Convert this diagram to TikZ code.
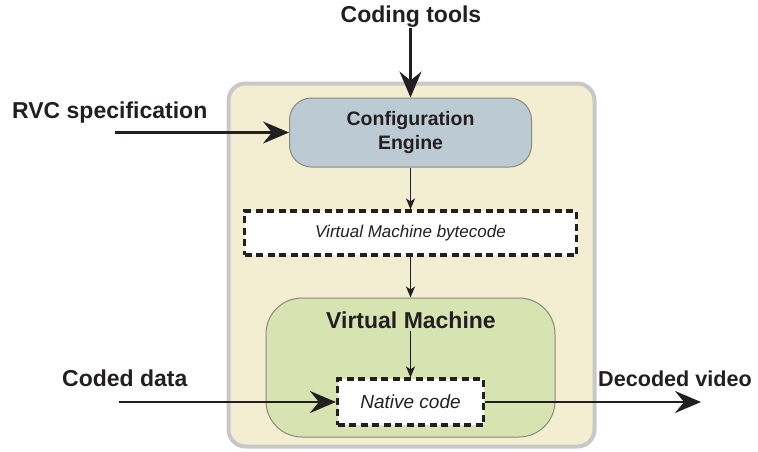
\documentclass[tikz,border=0pt]{standalone}
\usepackage{fontspec}
\setmainfont{Liberation Sans}
\usetikzlibrary{arrows.meta}
\definecolor{ink}{HTML}{231F20}
\definecolor{cream}{HTML}{F3EDD2}
\definecolor{outerline}{HTML}{C8C8C8}
\definecolor{cfgfill}{HTML}{BCCAD4}
\definecolor{vmfill}{HTML}{D7E3B0}
\definecolor{boxline}{HTML}{8A8A7A}
\tikzset{
  lbl/.style={font=\fontsize{23}{26}\selectfont\bfseries, text=ink, inner sep=0pt},
  bigarrow/.style={draw=ink, line width=2.6pt, -{Stealth[length=26pt,width=22pt,inset=9pt]}},
  smallarrow/.style={draw=ink, line width=1.2pt, -{Stealth[length=11pt,width=9pt,inset=3pt]}},
  dashbox/.style={draw=ink, fill=white, line width=3.2pt, dash pattern=on 7pt off 4.5pt, inner sep=0pt},
  ibox/.style={draw=boxline, line width=1pt, inner sep=0pt}
}
\begin{document}
\begin{tikzpicture}[x=1pt,y=-1pt]
\useasboundingbox (0,0) rectangle (758,451);
% outer container
\node[draw=outerline, fill=cream, line width=4pt, rounded corners=17pt,
      minimum width=366pt, minimum height=363pt] (outer) at (411.5,265) {};
% configuration engine
\node[ibox, fill=cfgfill, rounded corners=22pt, minimum width=242pt, minimum height=69pt,
      align=center, text=ink, font=\fontsize{19.5}{24}\selectfont\bfseries] (cfg) at (410.5,132.5)
      {Configuration\\Engine};
% bytecode box
\node[dashbox, minimum width=332pt, minimum height=44pt, text=ink,
      font=\fontsize{17}{20}\selectfont\itshape] (bc) at (410.5,233) {Virtual Machine bytecode};
% virtual machine
\node[ibox, fill=vmfill, rounded corners=36pt, minimum width=289pt, minimum height=139pt] (vm) at (410.5,367.5) {};
\node[lbl] (vmlabel) at (411,320) {Virtual Machine};
% native code
\node[dashbox, minimum width=146pt, minimum height=46pt, text=ink,
      font=\fontsize{19}{22}\selectfont\itshape] (nc) at (410.5,402) {Native code};
% external labels
\node[lbl, anchor=base] (coding) at (411,22) {Coding tools};
\node[lbl, anchor=base west] (rvc) at (12,118.5) {RVC specification};
\node[lbl, anchor=base west] (coded) at (62,386) {Coded data};
\node[lbl, anchor=base west, font=\fontsize{21.6}{26}\selectfont\bfseries] (decoded) at (598,386) {Decoded video};
% free ends
\coordinate (codingstart) at (410.5,28);
\coordinate (rvcstart) at (115,132.5);
\coordinate (codedstart) at (119,402);
\coordinate (decodedend) at (701,402);
\coordinate (vmstart) at (410.5,331);
% connectors
\draw[bigarrow] (codingstart) -- (cfg.north);
\draw[bigarrow] (rvcstart) -- (cfg.west);
\draw[smallarrow] (cfg.south) -- (bc.north);
\draw[smallarrow] (bc.south) -- (vm.north);
\draw[smallarrow] (vmstart) -- (nc.north);
\draw[bigarrow] (codedstart) -- (nc.west);
\draw[bigarrow] (nc.east) -- (decodedend);
\end{tikzpicture}
\end{document}
